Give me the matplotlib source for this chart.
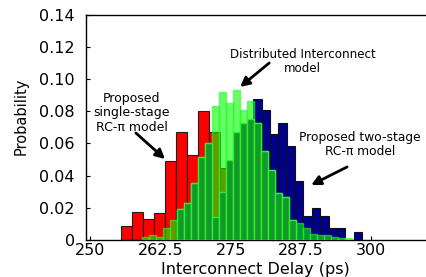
import numpy as np
import matplotlib.pyplot as plt

plt.rcParams['font.family'] = 'DejaVu Sans'

# Histogram data (bin centres in ps, probability per bin)
single_start, single_step = 256.43, 1.96
single_stage = [0.0087, 0.0176, 0.013, 0.0168, 0.049, 0.067, 0.053,
                0.080, 0.067, 0.045, 0.022, 0.009, 0.003]

two_start, two_step = 279.82, 1.49
two_stage = [0.0876, 0.0805, 0.066, 0.073, 0.0586, 0.0368, 0.0149,
             0.0198, 0.0149, 0.0077, 0.0077, 0.0, 0.0052]

dist_start, dist_step = 259.77, 1.25
distributed = [0.002, 0.003, 0.002, 0.0073, 0.0124, 0.019, 0.0228, 0.0352,
               0.0518, 0.060, 0.083, 0.092, 0.085, 0.0935, 0.081, 0.0866,
               0.0725, 0.055, 0.0435, 0.0295, 0.0265, 0.0125, 0.0105, 0.0072,
               0.004, 0.003, 0.003, 0.002, 0.0015, 0.001]

# darker overlap region (bins 5..21 of the distributed grid)
overlap_first = 5
overlap = [0.019, 0.0228, 0.0352, 0.0518, 0.060, 0.0145, 0.030, 0.050,
           0.067, 0.0725, 0.075, 0.0725, 0.055, 0.0435, 0.0295, 0.0265, 0.0125]

x_ticks = [250, 262.5, 275, 287.5, 300]
x_ticklabels = ['250', '262.5', '275', '287.5', '300']
y_ticks = [0, 0.02, 0.04, 0.06, 0.08, 0.10, 0.12, 0.14]
y_ticklabels = ['0', '0.02', '0.04', '0.06', '0.08', '0.10', '0.12', '0.14']

single_x = single_start + single_step * np.arange(len(single_stage))
two_x = two_start + two_step * np.arange(len(two_stage))
dist_x = dist_start + dist_step * np.arange(len(distributed))
overlap_x = dist_x[overlap_first:overlap_first + len(overlap)]

fig = plt.figure(figsize=(4.26, 2.77), dpi=100)
ax = fig.add_axes([86 / 426, 37 / 277, 339 / 426, 225.3 / 277])

ax.bar(single_x, single_stage, width=single_step, color='#ff0000',
       edgecolor='#202020', linewidth=0.8, zorder=2)
ax.bar(two_x, two_stage, width=two_step, color='#00008b',
       edgecolor='#101010', linewidth=0.8, zorder=3)
ax.bar(dist_x, distributed, width=dist_step, color='#00ff00', alpha=0.6,
       edgecolor='#22ff22', linewidth=1.0, zorder=4)
ax.bar(overlap_x, overlap, width=dist_step, color='#13992a',
       edgecolor='#2cf02c', linewidth=1.0, zorder=5)

ax.set_xlim(249.2, 309.7)
ax.set_ylim(0, 0.14)
ax.set_xticks(x_ticks)
ax.set_xticklabels(x_ticklabels)
ax.set_yticks(y_ticks)
ax.set_yticklabels(y_ticklabels)
ax.tick_params(axis='x', direction='in', length=3, labelsize=11.5, pad=2)
ax.tick_params(axis='y', direction='in', length=3, labelsize=11.5, pad=8)
for s in ax.spines.values():
    s.set_linewidth(1.0)
ax.spines['right'].set_visible(False)

ax.set_xlabel('Interconnect Delay (ps)', fontsize=11.5)
ax.xaxis.set_label_coords(0.5, -0.098)
ax.set_ylabel('Probability', fontsize=10.5)
ax.yaxis.set_label_coords(-0.17, 0.55)

arrow = dict(arrowstyle='-|>,head_length=0.55,head_width=0.28', color='black',
             lw=2.0, shrinkA=0, shrinkB=0)

ax.text(257.4, 0.079, 'Proposed\nsingle-stage\nRC-\u03c0 model', fontsize=9,
        ha='center', va='center', linespacing=1.15, zorder=6)
ax.annotate('', xy=(263.3, 0.0503), xytext=(258.1, 0.0665), arrowprops=arrow, zorder=6)

ax.text(287.9, 0.111, 'Distributed Interconnect\nmodel', fontsize=8.6,
        ha='center', va='center', linespacing=1.15, zorder=6)
ax.annotate('', xy=(276.7, 0.0951), xytext=(281.9, 0.110), arrowprops=arrow, zorder=6)

ax.text(298.1, 0.0594, 'Proposed two-stage\nRC-\u03c0 model', fontsize=8.8,
        ha='center', va='center', linespacing=1.15, zorder=6)
ax.annotate('', xy=(289.4, 0.0342), xytext=(295.8, 0.0454), arrowprops=arrow, zorder=6)

fig.savefig('out.png', dpi=100)
